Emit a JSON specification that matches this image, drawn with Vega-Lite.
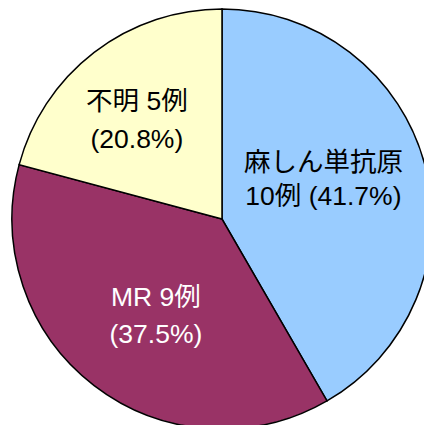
{
  "$schema": "https://vega.github.io/schema/vega-lite/v6.json",
  "width": 424,
  "height": 426,
  "autosize": "none",
  "padding": {"left": 10, "top": 6, "right": 0, "bottom": 0},
  "background": "white",
  "view": {"stroke": null},
  "data": {
    "values": [
      {"idx": 1, "category": "麻しん単抗原", "count": 10, "label": "麻しん単抗原\n10例 (41.7%)"},
      {"idx": 2, "category": "MR", "count": 9, "label": "MR 9例\n(37.5%)"},
      {"idx": 3, "category": "不明", "count": 5, "label": "不明 5例\n(20.8%)"}
    ]
  },
  "encoding": {
    "theta": {"field": "count", "type": "quantitative", "stack": true},
    "order": {"field": "idx", "type": "quantitative"}
  },
  "layer": [
    {
      "mark": {"type": "arc", "outerRadius": 210, "stroke": "black", "strokeWidth": 1.5},
      "encoding": {
        "color": {
          "field": "category", "type": "nominal",
          "scale": {"domain": ["麻しん単抗原", "MR", "不明"], "range": ["#99CCFF", "#993366", "#FFFFCC"]},
          "legend": null
        }
      }
    },
    {
      "mark": {"type": "text", "radius": 105, "dy": -29, "fontSize": 26.5, "lineHeight": 34, "lineBreak": "\n", "font": "Liberation Sans, Noto Sans CJK JP", "color": "black", "align": "center", "baseline": "middle"},
      "encoding": {
        "text": {"condition": {"test": "datum.category === '麻しん単抗原'", "field": "label"}, "value": ""}
      }
    },
    {
      "mark": {"type": "text", "radius": 125, "dx": 10, "dy": -20, "fontSize": 26.5, "lineHeight": 37, "lineBreak": "\n", "font": "Liberation Sans, Noto Sans CJK JP", "color": "white", "align": "center", "baseline": "middle"},
      "encoding": {
        "text": {"condition": {"test": "datum.category === 'MR'", "field": "label"}, "value": ""}
      }
    },
    {
      "mark": {"type": "text", "radius": 130, "dx": -6, "dy": -14, "fontSize": 26.5, "lineHeight": 38, "lineBreak": "\n", "font": "Liberation Sans, Noto Sans CJK JP", "color": "black", "align": "center", "baseline": "middle"},
      "encoding": {
        "text": {"condition": {"test": "datum.category === '不明'", "field": "label"}, "value": ""}
      }
    }
  ]
}
